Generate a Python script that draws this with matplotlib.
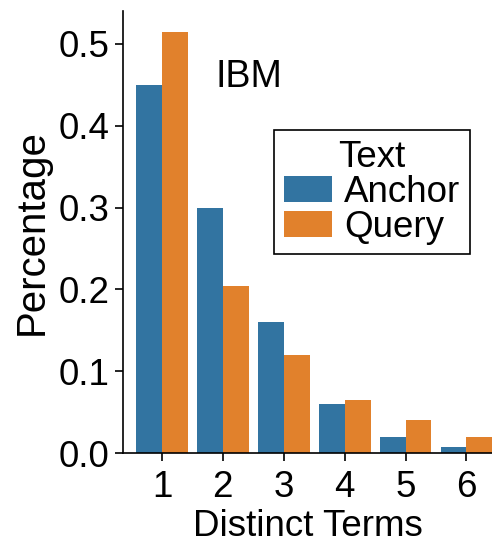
import matplotlib
matplotlib.use('Agg')
import matplotlib.pyplot as plt
import numpy as np

# data
terms = [1, 2, 3, 4, 5, 6]
anchor = [0.45, 0.30, 0.16, 0.06, 0.02, 0.007]
query = [0.514, 0.204, 0.12, 0.065, 0.04, 0.02]

plt.rcParams['font.family'] = ['Liberation Sans', 'DejaVu Sans']
plt.rcParams['font.size'] = 26

fig = plt.figure(figsize=(4.92, 5.5), dpi=100)
ax = fig.add_axes([0.25, 0.176, 0.75, 0.804])

x = np.array(terms)
w = 0.425
ax.bar(x - w / 2, anchor, w, color='#3274a1', label='Anchor')
ax.bar(x + w / 2, query, w, color='#e1812c', label='Query')

ax.set_xlim(0.36, 6.42)
ax.set_ylim(0, 0.54)
ax.set_xticks(terms)
ax.set_yticks([0.0, 0.1, 0.2, 0.3, 0.4, 0.5])
ax.set_yticklabels(['0.0', '0.1', '0.2', '0.3', '0.4', '0.5'])
ax.set_xlabel('Distinct Terms', fontsize=26.5, labelpad=3)
ax.set_ylabel('Percentage', fontsize=29, labelpad=6)
ax.tick_params(length=6, width=1.2, labelsize=26.5)
ax.tick_params(axis='x', pad=6)

ax.spines['top'].set_visible(False)
ax.spines['right'].set_visible(False)
for s in ['left', 'bottom']:
    ax.spines[s].set_linewidth(1.2)

ax.text(0.34, 0.85, 'IBM', transform=ax.transAxes, ha='center', va='center', fontsize=27)

leg = ax.legend(title='Text', loc='upper right', bbox_to_anchor=(0.94, 0.73),
                fontsize=26.5, title_fontsize=26.5, fancybox=False, edgecolor='black',
                borderpad=0.25, labelspacing=0.0, handlelength=1.3, handletextpad=0.35,
                borderaxespad=0, framealpha=1)
leg.get_frame().set_linewidth(1.2)

fig.savefig('out.png', dpi=100)
